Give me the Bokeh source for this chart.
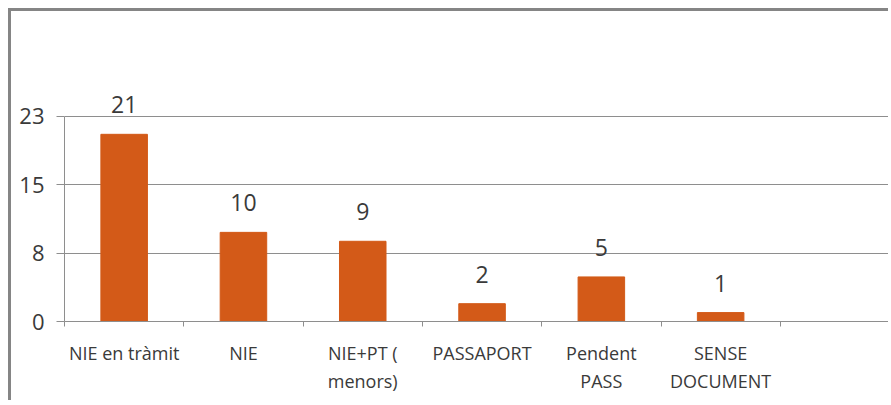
from bokeh.plotting import figure
from bokeh.models import ColumnDataSource, Range1d, FixedTicker, NumeralTickFormatter
from bokeh.core.properties import value
from bokeh.embed import file_html
from bokeh.resources import INLINE

categories = ["NIE en tràmit", "NIE", "NIE+PT ( menors)", "PASSAPORT", "Pendent PASS", "SENSE DOCUMENT"]
tick_labels = ["NIE en tràmit", "NIE", "NIE+PT (\nmenors)", "PASSAPORT", "Pendent\nPASS", "SENSE\nDOCUMENT"]
counts = [21, 10, 9, 2, 5, 1]
y_max = 23
n_slots = 7

BAR = "#D35A18"
GRID = "#8E8E8E"
TXT = "#3A3A3A"
FONT = "Open Sans"

xs = [i + 0.5 for i in range(len(categories))]
src = ColumnDataSource(dict(x=xs, top=counts, lab=[str(c) for c in counts], cat=categories))

px_per_slot = 119.3
frame_w = 827
p = figure(width=880, height=392, output_backend="svg", toolbar_location=None,
           x_range=Range1d(0, frame_w / px_per_slot), y_range=Range1d(0, 34.78),
           min_border_left=53, min_border_right=0, min_border_top=0, min_border_bottom=82)
p.styles = {"border-left": "3px solid #858585", "border-top": "3px solid #858585",
            "margin-left": "8px", "margin-top": "8px", "overflow": "hidden"}
p.outline_line_color = None
p.background_fill_color = "white"
p.border_fill_color = "white"

p.vbar(x="x", top="top", width=0.39, source=src, fill_color=BAR, line_color=BAR)
p.text(x="x", y="top", text="lab", source=src, text_align="center", text_baseline="bottom",
       y_offset=-21, text_font=value(FONT), text_font_size="23px", text_color=TXT)

y_ticks = [0, y_max / 3, 2 * y_max / 3, y_max]
p.yaxis.ticker = FixedTicker(ticks=y_ticks)
p.yaxis.formatter = NumeralTickFormatter(format="0")
p.yaxis.bounds = (0, y_max)
p.yaxis.axis_line_color = GRID
p.yaxis.major_tick_line_color = GRID
p.yaxis.major_tick_out = 8
p.yaxis.major_tick_in = 0
p.yaxis.minor_tick_line_color = None
p.yaxis.major_label_text_font = FONT
p.yaxis.major_label_text_font_size = "22px"
p.yaxis.major_label_text_color = TXT
p.yaxis.major_label_standoff = 12

p.xaxis.ticker = FixedTicker(ticks=xs, minor_ticks=list(range(n_slots + 1)))
p.xaxis.major_label_overrides = {x: lab for x, lab in zip(xs, tick_labels)}
p.xaxis.axis_line_color = GRID
p.xaxis.major_tick_line_color = None
p.xaxis.minor_tick_line_color = GRID
p.xaxis.minor_tick_out = 5
p.xaxis.minor_tick_in = 0
p.xaxis.major_label_text_font = FONT
p.xaxis.major_label_text_font_size = "18px"
p.xaxis.major_label_text_color = TXT
p.xaxis.major_label_standoff = 13

p.xgrid.visible = False
p.ygrid.ticker = FixedTicker(ticks=y_ticks)
p.ygrid.grid_line_color = GRID
p.ygrid.grid_line_width = 1

open("out.html", "w").write(file_html(p, INLINE))
